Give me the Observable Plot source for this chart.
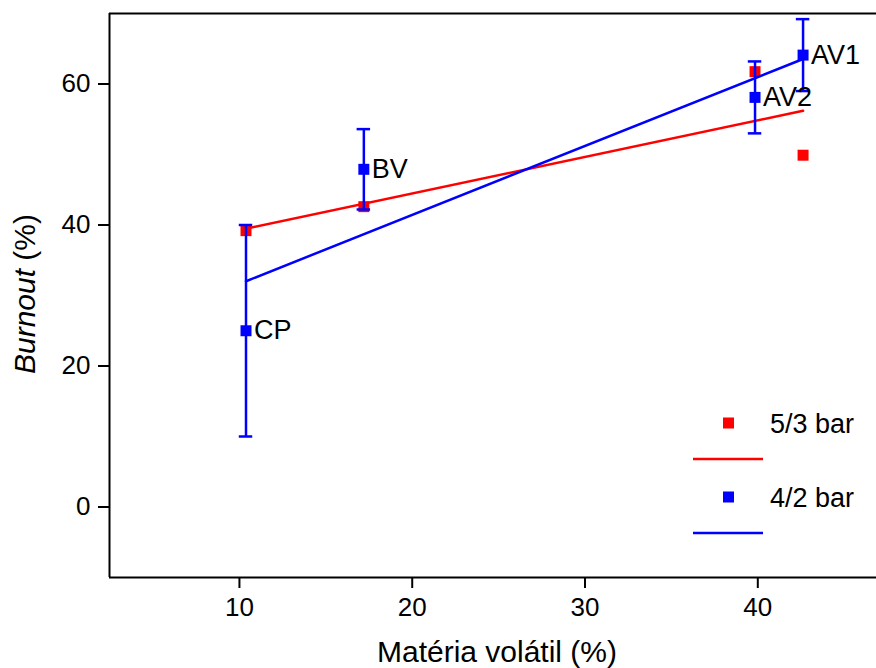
<!DOCTYPE html>
<html>
<head>
<meta charset="utf-8">
<script src="https://cdn.jsdelivr.net/npm/d3@7"></script>
<script src="https://cdn.jsdelivr.net/npm/@observablehq/plot@0.6"></script>
<style>
  html, body { margin: 0; padding: 0; background: #fff; overflow: hidden; }
  #chart { position: relative; width: 876px; height: 668px; }
</style>
</head>
<body>
<div id="chart"></div>
<script>
// ---- data ----
const samples   = ["CP", "BV", "AV2", "AV1"];
const volatile  = [10.38, 17.2, 39.84, 42.62];      // Matéria volátil (%)
const burnout53 = [39.2, 42.6, 61.75, 49.9];         // 5/3 bar
const burnout42 = [25.0, 47.9, 58.1, 64.1];          // 4/2 bar
const err42     = [15.0, 5.7, 5.1, 5.1];             // error (±) 4/2 bar
const seriesNames = ["5/3 bar", "4/2 bar"];
const xTicks = [10, 20, 30, 40];
const yTicks = [0, 20, 40, 60];
const xDomain = [2.48, 46.87];
const yDomain = [-10, 70];

const red = "#ff0000", blue = "#0000ff";
const font = "'Liberation Sans', Arial, sans-serif";

const d53 = samples.map((s, i) => ({name: s, x: volatile[i], y: burnout53[i]}));
const d42 = samples.map((s, i) => ({name: s, x: volatile[i], y: burnout42[i], lo: burnout42[i] - err42[i], hi: burnout42[i] + err42[i]}));
const capHalf = 0.39;

const plot = Plot.plot({
  width: 876,
  height: 668,
  marginLeft: 109,
  marginRight: 0,
  marginTop: 13,
  marginBottom: 91,
  style: {fontFamily: font, fontSize: "26px", color: "#000", background: "#fff", overflow: "visible"},
  x: {domain: xDomain, label: null},
  y: {domain: yDomain, label: null},
  marks: [
    Plot.axisX({ticks: xTicks, tickSize: 11, strokeWidth: 2, tickFormat: () => "", label: null}),
    Plot.axisY({ticks: yTicks, tickSize: 11, strokeWidth: 2, tickFormat: () => "", label: null}),
    Plot.text(xTicks, {x: d => d, text: d => String(d), frameAnchor: "bottom", dy: 20, lineAnchor: "top", fontSize: 26, fill: "#000"}),
    Plot.text(yTicks, {y: d => d, text: d => String(d), frameAnchor: "left", dx: -19, textAnchor: "end", fontSize: 26, fill: "#000"}),
    Plot.ruleY([yDomain[1]], {stroke: "#000", strokeWidth: 2}),
    Plot.ruleY([yDomain[0]], {stroke: "#000", strokeWidth: 2}),
    Plot.ruleX([xDomain[0]], {stroke: "#000", strokeWidth: 2}),
    // 5/3 bar
    Plot.dot(d53, {x: "x", y: "y", symbol: "square", r: 6.2, fill: red, stroke: "none"}),
    Plot.linearRegressionY(d53, {x: "x", y: "y", stroke: red, strokeWidth: 2.5, ci: 0}),
    // 4/2 bar
    Plot.linearRegressionY(d42, {x: "x", y: "y", stroke: blue, strokeWidth: 2.5, ci: 0}),
    Plot.ruleX(d42, {x: "x", y1: "lo", y2: "hi", stroke: blue, strokeWidth: 2.5}),
    Plot.ruleY(d42, {y: "hi", x1: d => d.x - capHalf, x2: d => d.x + capHalf, stroke: blue, strokeWidth: 2.5}),
    Plot.ruleY(d42, {y: "lo", x1: d => d.x - capHalf, x2: d => d.x + capHalf, stroke: blue, strokeWidth: 2.5}),
    Plot.dot(d42, {x: "x", y: "y", symbol: "square", r: 6.2, fill: blue, stroke: "none"}),
    Plot.text(d42, {x: "x", y: "y", text: "name", dx: 8, textAnchor: "start", fontSize: 27, fill: "#000"})
  ]
});

const svg = d3.select(plot);

// axis titles
svg.append("text")
  .attr("x", 497).attr("y", 662)
  .attr("text-anchor", "middle")
  .attr("font-family", font).attr("font-size", 30).attr("fill", "#000")
  .text("Matéria volátil (%)");
const yt = svg.append("text")
  .attr("transform", "translate(35,294) rotate(-90)")
  .attr("text-anchor", "middle")
  .attr("font-family", font).attr("font-size", 30).attr("fill", "#000");
yt.append("tspan").attr("font-style", "italic").text("Burnout");
yt.append("tspan").text(" (%)");

// legend
const legend = svg.append("g").attr("font-family", font).attr("font-size", 27).attr("fill", "#000").attr("text-anchor", "start");
const legendColors = [red, blue];
seriesNames.forEach((name, i) => {
  const y0 = 423 + i * 74;
  legend.append("rect").attr("x", 723).attr("y", y0 - 5.5).attr("width", 11).attr("height", 11).attr("fill", legendColors[i]);
  legend.append("text").attr("x", 770).attr("y", y0 + 10).attr("text-anchor", "start").text(name);
  legend.append("line").attr("x1", 693).attr("x2", 763).attr("y1", y0 + 36).attr("y2", y0 + 36)
    .attr("stroke", legendColors[i]).attr("stroke-width", 2.5);
});

document.getElementById("chart").appendChild(plot);
</script>
</body>
</html>
